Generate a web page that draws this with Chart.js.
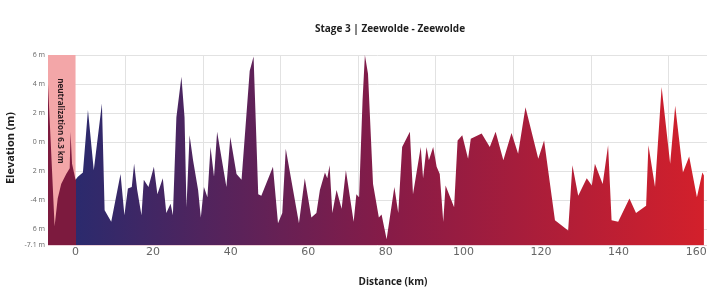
<!DOCTYPE html>
<html>
<head>
<meta charset="utf-8">
<script src="https://cdn.jsdelivr.net/npm/chart.js"></script>
<style>
  html, body { margin: 0; padding: 0; background: #ffffff; }
  #wrap { width: 712px; height: 295px; }
</style>
</head>
<body>
<div id="wrap"><canvas id="profileChart" width="712" height="295"></canvas></div>
<script>
// distance along the stage (km) and elevation (m)
const distanceKm = [
  -7.1, -6.4, -5.4, -4.6, -3.7, -2.4, -1.5, -1.3, -0.9, 0,
  0.6, 1.9, 3.2, 4.7, 6.8, 7.5, 9.2, 11.6, 12.6, 13.5,
  14.5, 15.1, 15.9, 17.0, 17.6, 18.8, 20.2, 21.1, 22.5, 23.4,
  24.5, 25.1, 26.0, 27.3, 28.1, 28.6, 29.4, 30.3, 31.6, 32.3,
  33.1, 34.0, 34.8, 35.7, 36.5, 38.9, 39.9, 41.5, 42.8, 44.9,
  45.9, 47.1, 47.9, 50.9, 52.2, 53.3, 54.2, 57.6, 59.1, 60.8,
  62.1, 63.0, 64.3, 64.9, 65.5, 66.2, 67.3, 68.6, 69.7, 71.7,
  72.4, 73.1, 74.0, 74.6, 75.4, 76.7, 78.2, 78.9, 80.2, 82.2,
  83.2, 84.2, 86.2, 87.0, 89.0, 89.6, 90.5, 91.1, 92.2, 93.1,
  93.9, 94.8, 95.4, 97.6, 98.5, 99.7, 101.2, 101.9, 104.7, 106.8,
  108.3, 110.3, 112.4, 114.1, 116.0, 119.3, 120.8, 123.6, 127.0, 128.1,
  129.6, 131.8, 133.1, 133.9, 135.9, 137.3, 138.2, 139.9, 142.8, 144.5,
  147.1, 147.7, 149.4, 151.1, 153.3, 154.6, 156.6, 158.2, 160.2, 161.6,
  162.0
];
const elevationM = [
  4.0, 0.0, -5.8, -3.9, -2.9, -2.2, -1.8, 0.7, -1.5, -2.6,
  -2.4, -2.1, 2.2, -1.95, 2.65, -4.7, -5.5, -2.2, -5.05, -3.2,
  -3.1, -1.5, -3.3, -5.05, -2.6, -3.1, -1.7, -3.6, -2.5, -4.9,
  -4.25, -5.05, 1.7, 4.5, 1.7, -4.5, 0.46, -1.26, -3.3, -5.2,
  -3.1, -3.8, -0.34, -2.4, 0.7, -3.1, 0.35, -2.2, -2.6, 4.9,
  5.9, -3.6, -3.7, -1.7, -5.6, -4.9, -0.46, -5.6, -2.5, -5.2,
  -4.9, -3.3, -2.1, -2.5, -1.6, -4.9, -3.3, -4.6, -1.95, -5.5,
  -3.6, -3.8, 2.9, 6.0, 4.7, -2.9, -5.2, -5.0, -6.7, -3.1,
  -4.9, -0.34, 0.7, -3.6, -0.34, -2.5, -0.34, -1.26, -0.34, -1.7,
  -2.2, -5.5, -3.0, -4.5, 0.1, 0.46, -1.15, 0.23, 0.58, -0.34,
  0.7, -1.26, 0.62, -0.8, 2.4, -1.15, 0.1, -5.4, -6.1, -1.6,
  -3.7, -2.5, -3.0, -1.5, -2.9, -0.23, -5.4, -5.5, -3.9, -4.9,
  -4.4, -0.23, -3.1, 3.8, -1.5, 2.5, -2.1, -1.0, -3.8, -2.1,
  -2.3
];

const xTickValues = [0, 20, 40, 60, 80, 100, 120, 140, 160];
const xGridValues = [-7.1, 12.9, 32.9, 52.9, 72.9, 92.9, 112.9, 132.9, 152.9];
const yTickValues = [-7.1, -6, -4, -2, 0, 2, 4, 6];
const yTickLabels = ['-7.1 m', '6 m', '-4 m', '2 m', '0 m', '2 m', '4 m', '6 m'];

const neutralStart = -7.1;
const neutralEnd = 0;
const neutralText = 'neutralization 6.3 km';
const titleText = 'Stage 3 | Zeewolde - Zeewolde';

const points = distanceKm.map((d, i) => ({ x: d, y: elevationM[i] }));

function profileGradient(chart) {
    const area = chart.chartArea;
    if (!area) return '#6a2050';
    const xs = chart.scales.x;
    const x0 = xs.getPixelForValue(neutralStart);
    const x1 = xs.getPixelForValue(162.0);
    const xz = xs.getPixelForValue(neutralEnd);
    const g = chart.ctx.createLinearGradient(x0, 0, x1, 0);
    const t = (xz - x0) / (x1 - x0);
    g.addColorStop(0, '#7c1a3e');
    g.addColorStop(t, '#7c1a3e');
    g.addColorStop(t + 0.0001, '#2b2a6d');
    g.addColorStop(t + (1 - t) * 0.5, '#871b47');
    g.addColorStop(1, '#d3202b');
    return g;
}

const neutralZone = {
    id: 'neutralZone',
    beforeDatasetsDraw(chart) {
        const { ctx, chartArea, scales } = chart;
        const a = scales.x.getPixelForValue(neutralStart);
        const b = scales.x.getPixelForValue(neutralEnd);
        ctx.save();
        ctx.fillStyle = '#f3a6a8';
        ctx.fillRect(a, chartArea.top, b - a, chartArea.bottom - chartArea.top);
        ctx.restore();
    },
    afterDatasetsDraw(chart) {
        const { ctx, scales } = chart;
        const a = scales.x.getPixelForValue(neutralStart);
        const b = scales.x.getPixelForValue(neutralEnd);
        ctx.save();
        ctx.translate((a + b) / 2 - 1, 121);
        ctx.rotate(Math.PI / 2);
        ctx.fillStyle = '#2a1a1e';
        ctx.font = 'bold 8px "Open Sans"';
        ctx.textAlign = 'center';
        ctx.textBaseline = 'middle';
        ctx.fillText(neutralText, 0, 0);
        ctx.restore();
    }
};

const labels = {
    id: 'labels',
    afterDraw(chart) {
        const ctx = chart.ctx;
        ctx.save();
        ctx.fillStyle = '#1e1e1e';
        ctx.textAlign = 'center';
        ctx.textBaseline = 'middle';
        ctx.font = 'bold 10px "Open Sans"';
        ctx.fillText(titleText, 390, 29);
        ctx.fillText('Distance (km)', 393, 282);
        ctx.font = 'bold 11px "Open Sans"';
        ctx.translate(11, 148);
        ctx.rotate(-Math.PI / 2);
        ctx.fillText('Elevation (m)', 0, 0);
        ctx.restore();
    }
};

new Chart(document.getElementById('profileChart'), {
    type: 'line',
    data: {
        datasets: [{
            label: 'Elevation',
            data: points,
            borderWidth: 0,
            pointRadius: 0,
            tension: 0,
            fill: 'start',
            backgroundColor: (context) => profileGradient(context.chart)
        }]
    },
    options: {
        responsive: false,
        animation: false,
        layout: { padding: { left: 0, right: 5, top: 55, bottom: 0 } },
        scales: {
            x: {
                type: 'linear',
                min: -7.1,
                max: 162.8,
                afterBuildTicks: (s) => { s.ticks = xGridValues.map(v => ({ value: v })); },
                afterFit: (s) => { s.height = 0; },
                ticks: { display: false },
                border: { display: false },
                grid: { color: '#e2e2e2', lineWidth: 1, drawTicks: false }
            },
            xl: {
                type: 'linear',
                position: 'bottom',
                min: -7.1,
                max: 162.8,
                afterBuildTicks: (s) => { s.ticks = xTickValues.map(v => ({ value: v })); },
                afterFit: (s) => { s.height = 50; },
                grid: { display: false, drawTicks: false },
                border: { display: false },
                ticks: {
                    color: '#666666',
                    padding: 1,
                    maxRotation: 0,
                    autoSkip: false,
                    font: { family: 'DejaVu Sans', size: 11 }
                }
            },
            y: {
                min: -7.1,
                max: 6,
                afterBuildTicks: (s) => { s.ticks = yTickValues.map(v => ({ value: v })); },
                afterFit: (s) => { s.width = 48; },
                border: { display: false },
                grid: {
                    drawTicks: false,
                    lineWidth: 1,
                    color: (c) => c.index === 0 ? '#ecd0d8' : '#e2e2e2'
                },
                ticks: {
                    color: '#666666',
                    padding: 3,
                    autoSkip: false,
                    font: { family: 'Open Sans', size: 7 },
                    callback: (v, i) => yTickLabels[i]
                }
            }
        },
        plugins: {
            legend: { display: false },
            title: { display: false },
            tooltip: { enabled: false }
        }
    },
    plugins: [neutralZone, labels]
});
</script>
</body>
</html>
